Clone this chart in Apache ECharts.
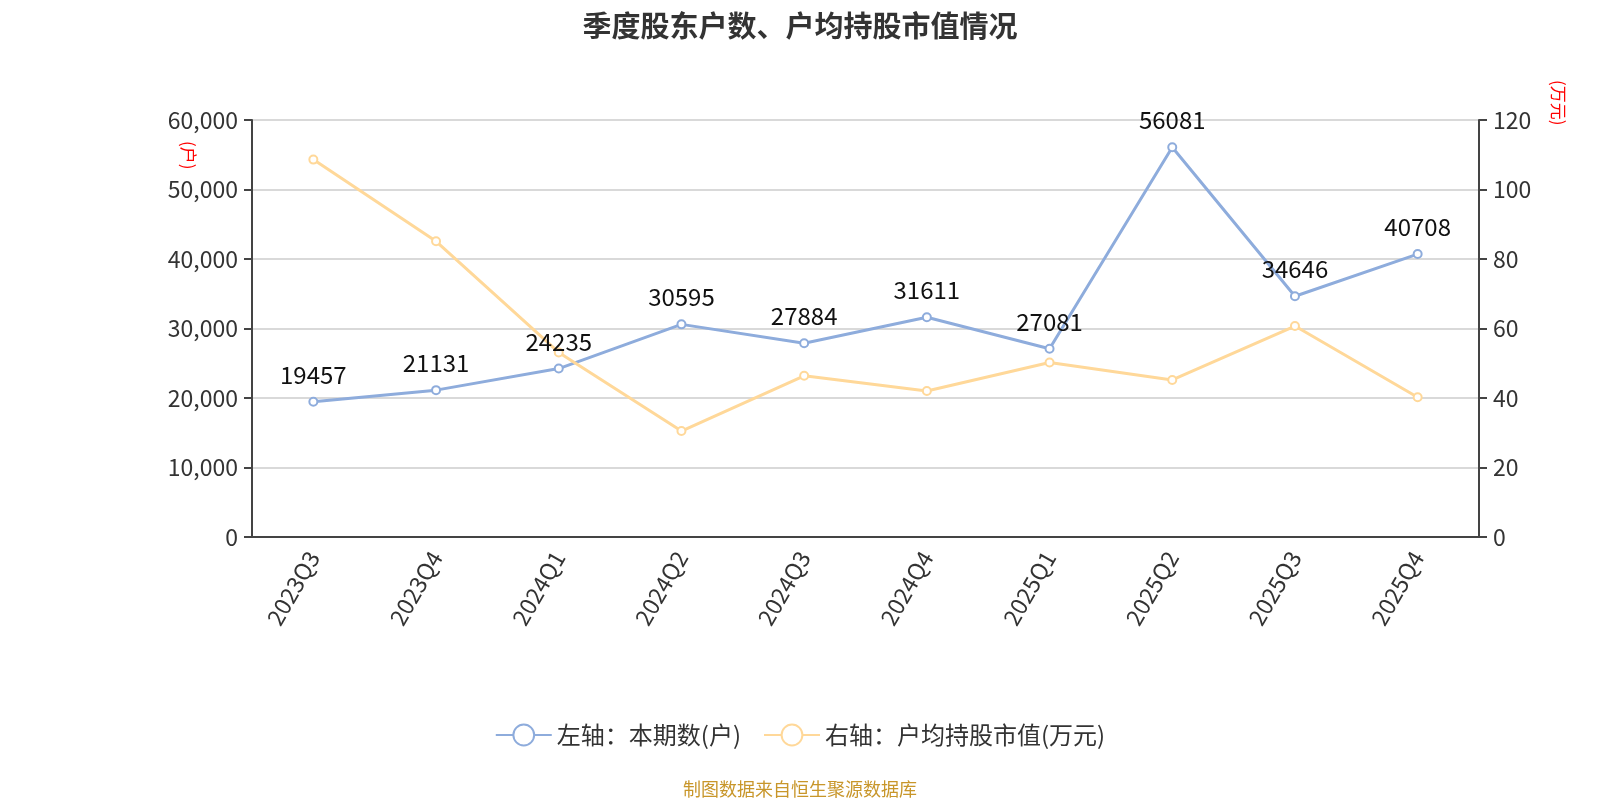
<!DOCTYPE html>
<html>
<head>
<meta charset="utf-8">
<script src="https://cdn.jsdelivr.net/npm/echarts@6/dist/echarts.min.js"></script>
<style>
  html, body { margin: 0; padding: 0; background: #fff; }
  #chart { width: 1600px; height: 800px; }
</style>
</head>
<body>
<div id="chart"></div>
<script>
const quarters = ['2023Q3', '2023Q4', '2024Q1', '2024Q2', '2024Q3', '2024Q4', '2025Q1', '2025Q2', '2025Q3', '2025Q4']
const holders = [19457, 21131, 24235, 30595, 27884, 31611, 27081, 56081, 34646, 40708]
const avgValue = [108.6, 85.1, 53.1, 30.5, 46.4, 42.0, 50.2, 45.2, 60.7, 40.2]

const chart = echarts.init(document.getElementById('chart'))
const font = '"Noto Sans CJK SC", "Noto Sans", sans-serif'

const option = {
  textStyle: { fontFamily: font },
  title: {
    text: '季度股东户数、户均持股市值情况',
    left: 'center',
    top: 6,
    textStyle: { fontSize: 29, fontWeight: 'bold', color: '#333', fontFamily: font }
  },
  legend: {
    bottom: 48,
    left: 'center',
    itemWidth: 56,
    itemHeight: 26,
    itemGap: 22,
    textStyle: { fontSize: 24, color: '#333' },
    data: ['左轴：本期数(户)', '右轴：户均持股市值(万元)']
  },
  grid: { left: 252, right: 121, top: 120, bottom: 263 },
  xAxis: {
    type: 'category',
    data: quarters,
    axisLine: { lineStyle: { color: '#444', width: 2 } },
    axisTick: { length: 10, lineStyle: { color: '#444', width: 2 } },
    axisLabel: { rotate: 60, fontSize: 23, color: '#333', margin: 16 }
  },
  yAxis: [
    {
      type: 'value',
      min: 0, max: 60000, interval: 10000,
      axisLine: { show: true, lineStyle: { color: '#444', width: 2 } },
      axisTick: { show: true, length: 8, lineStyle: { color: '#444', width: 2 } },
      axisLabel: { fontSize: 23, color: '#333', margin: 14 },
      splitLine: { lineStyle: { color: '#ccc', width: 1.5 } }
    },
    {
      type: 'value',
      min: 0, max: 120, interval: 20,
      axisLine: { show: true, lineStyle: { color: '#444', width: 2 } },
      axisTick: { show: true, length: 8, lineStyle: { color: '#444', width: 2 } },
      axisLabel: { fontSize: 23, color: '#333', margin: 14 },
      splitLine: { show: false }
    }
  ],
  graphic: [
    { type: 'text', left: 180, top: 141, rotation: -Math.PI / 2,
      style: { text: '(户)', fontSize: 17, fill: '#f00', fontFamily: font } },
    { type: 'text', left: 1550, top: 80, rotation: -Math.PI / 2,
      style: { text: '(万元)', fontSize: 17, fill: '#f00', fontFamily: font } },
    { type: 'text', left: 'center', bottom: 2,
      style: { text: '制图数据来自恒生聚源数据库', fontSize: 18, fill: '#C8962A', fontFamily: font } }
  ],
  series: [
    {
      name: '左轴：本期数(户)',
      type: 'line',
      yAxisIndex: 0,
      data: holders,
      symbol: 'emptyCircle',
      symbolSize: 8,
      lineStyle: { color: '#8EACDC', width: 3 },
      itemStyle: { color: '#8EACDC' },
      label: { show: true, position: 'top', fontSize: 24, color: '#111', distance: 10 }
    },
    {
      name: '右轴：户均持股市值(万元)',
      type: 'line',
      yAxisIndex: 1,
      data: avgValue,
      symbol: 'emptyCircle',
      symbolSize: 8,
      lineStyle: { color: '#FFD899', width: 3 },
      itemStyle: { color: '#FFD899' }
    }
  ]
}
chart.setOption(option)
</script>
</body>
</html>
